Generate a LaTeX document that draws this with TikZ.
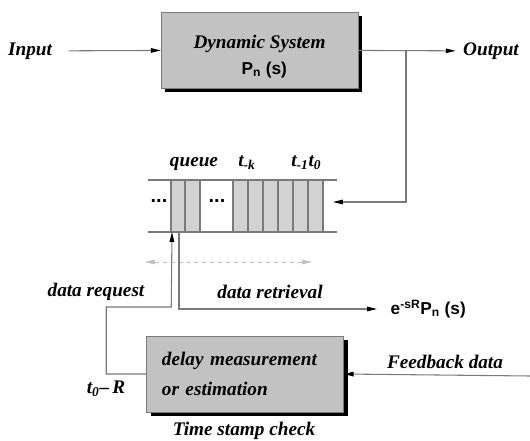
\documentclass[tikz,border=0pt]{standalone}
\usepackage{fontspec}
\newfontfamily\hvfont{Liberation Sans}
\newfontfamily\serfont{Liberation Serif}
\usetikzlibrary{arrows.meta,shadows}
\definecolor{boxgray}{HTML}{C2C2C2}
\definecolor{cellgray}{HTML}{D2D2D2}
\definecolor{linegray}{HTML}{7A7A7A}
\newcommand{\lblsize}{\serfont\fontsize{14.5}{18}\selectfont\bfseries\itshape}
\newcommand{\sfsize}{\hvfont\fontsize{13}{16}\selectfont\bfseries}
\begin{document}
\begin{tikzpicture}[x=0.0265cm, y=-0.0265cm,
    lbl/.style={font=\lblsize, inner sep=1pt},
    blk/.style={rectangle, draw=linegray, fill=boxgray, minimum width=197*0.0265cm, minimum height=76*0.0265cm,
        drop shadow={opacity=1, fill=black, shadow xshift=1.1mm, shadow yshift=-1.1mm}},
    wire/.style={draw=linegray, thick},
    tip/.style={-{Triangle[length=2.6mm, width=1.2mm, black]}},
    cell/.style={draw=linegray, thick, fill=cellgray}]
    \useasboundingbox (0,0) rectangle (530,441);

    % Dynamisches System
    \node[blk, align=center] (sys) at (259.5,50) {\rule{0pt}{20pt}{\lblsize Dynamic System}\\[6pt]
        {\sfsize\hspace*{0.25cm}P\textsubscript{n} (s)}};
    \node[lbl] (in) at (30,51) {Input};
    \node[lbl] (out) at (491,51) {Output};
    \draw[wire, tip, shorten <=0.4cm] (in) -- (sys);
    \draw[wire, tip, shorten >=0.16cm] (sys) -- (out);
    \coordinate (br) at (406,51);
    \coordinate (qin) at (333,202);
    \draw[wire, tip] (br) |- (qin);

    % Warteschlange
    \draw[wire] (148,180) -- (337,180);
    \draw[wire] (148,232) -- (337,232);
    \foreach \x in {171,185} \draw[cell] (\x,180) rectangle +(15,52);
    \foreach \x in {233,248,263,278,293,308} \draw[cell] (\x,180) rectangle +(15,52);
    \node[font=\hvfont\fontsize{15}{18}\selectfont\bfseries] (dl) at (159,201) {...};
    \node[font=\hvfont\fontsize{15}{18}\selectfont\bfseries] (dr) at (217,201) {...};
    \node[lbl] (q) at (194,164) {queue};
    \node[lbl] (tk) at (247,163) {t\textsubscript{-k}};
    \node[lbl] (t1) at (300,163) {t\textsubscript{-1}};
    \node[lbl] (t0) at (315,163) {t\textsubscript{0}};

    % Zeitachse
    \coordinate (al) at (145,262);
    \coordinate (ar) at (312,262);
    \draw[gray!50, dashed, {Triangle[length=2.6mm, width=1.2mm]}-{Triangle[length=2.6mm, width=1.2mm]}] (al) -- (ar);

    % Verzoegerungsmessung
    \node[blk, font=\lblsize, align=left, text width=4.4cm] (dm) at (245,374) {delay measurement\\[4pt]
        or estimation};
    \node[lbl] (ts) at (244,431) {Time stamp check};
    \node[lbl] (tr) at (106,389) {t\textsubscript{0}–\,R};

    % Anfrage und Abruf
    \coordinate (qreq) at (172,232);
    \coordinate (qret) at (179,232);
    \draw[wire, tip] (dm.west) -- ++(-40,0) |- ++(65,-67) -- (qreq);
    \node[lbl] (rq) at (96,292) {data request};
    \node[lbl] (rt) at (270,292) {data retrieval};
    \node[anchor=west, font=\sfsize] (ret) at (386,309) {e\textsuperscript{-sR}P\textsubscript{n} (s)};
    \draw[wire, tip, shorten >=0.24cm] (qret) |- (ret.west);

    % Rueckfuehrung
    \coordinate (fb) at (530,376);
    \draw[wire, tip] (fb) -- (dm.east);
    \node[lbl] (fbl) at (445,362) {Feedback data};
\end{tikzpicture}
\end{document}
